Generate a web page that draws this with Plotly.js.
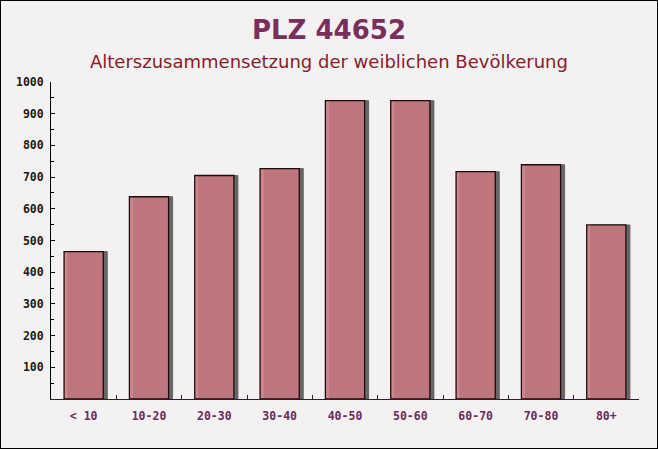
<!DOCTYPE html>
<html>
<head>
<meta charset="utf-8">
<script src="https://cdn.plot.ly/plotly-3.0.1.min.js"></script>
<style>
html,body{margin:0;padding:0;background:#fff;}
#chart{width:656px;height:447px;border:1px solid #000;}
</style>
</head>
<body>
<div id="chart"></div>
<script>
// Data
const categories = ["< 10", "10-20", "20-30", "30-40", "40-50", "50-60", "60-70", "70-80", "80+"];
const values = [465, 638, 705, 727, 941, 941, 717, 739, 549];
const yTickVals = [100, 200, 300, 400, 500, 600, 700, 800, 900, 1000];
const titleText = "PLZ 44652";
const subtitleText = "Alterszusammensetzung der weiblichen Bevölkerung";

// Layout geometry (pixels)
const W = 656, H = 447;
const L = 50, R = 14, T = 78, B = 49;
const plotW = W - L - R, plotH = H - T - B;   // 592 x 320
const dx = 4, dy = 3;
const shadowBase = -dy * 1000 / (plotH - dy);

const shadow = {
  type: 'bar', x: categories, y: values, base: shadowBase,
  xaxis: 'x', yaxis: 'y', width: 0.6,
  marker: {color: '#686868', line: {color: '#555555', width: 0.8}},
  hoverinfo: 'skip', showlegend: false
};
const front = {
  type: 'bar', x: categories, y: values,
  xaxis: 'x2', yaxis: 'y2', width: 0.6,
  marker: {color: 'rgba(202,118,126,0.88)', line: {color: '#1c0c0c', width: 1.3}},
  showlegend: false
};

const tickFont = {family: 'DejaVu Sans Mono', size: 11.5, weight: 'bold'};

const layout = {
  width: W, height: H,
  margin: {l: L, r: R, t: T, b: B, pad: 0},
  paper_bgcolor: '#f3f1f2',
  plot_bgcolor: 'rgba(0,0,0,0)',
  xaxis: {domain: [dx / plotW, 1], anchor: 'y', type: 'category', visible: false, fixedrange: true},
  yaxis: {domain: [0, 1], anchor: 'x', range: [shadowBase, 1000], visible: false, fixedrange: true},
  xaxis2: {
    domain: [0, (plotW - dx) / plotW], anchor: 'y2', type: 'category',
    showline: true, linecolor: '#3a1a30', linewidth: 1,
    ticks: 'inside', tickson: 'boundaries', ticklen: 4, tickcolor: '#3a1a30',
    tickfont: Object.assign({color: '#6b2b5a'}, tickFont),
    ticklabelstandoff: 6,
    showgrid: false, zeroline: false, fixedrange: true
  },
  yaxis2: {
    domain: [0, (plotH - dy) / plotH], anchor: 'x2', range: [0, 1000],
    showline: true, linecolor: '#000', linewidth: 1,
    tickmode: 'array', tickvals: yTickVals, ticktext: yTickVals.map(String),
    ticks: 'inside', ticklen: 4, tickcolor: '#000',
    minor: {dtick: 50, tick0: 0, ticks: 'inside', ticklen: 3, tickcolor: '#000'},
    tickfont: Object.assign({color: '#1a1a1a'}, tickFont),
    ticklabelstandoff: 4,
    showgrid: false, zeroline: false, fixedrange: true
  },
  annotations: [
    {text: '<b>' + titleText + '</b>', xref: 'paper', yref: 'paper',
     x: (W / 2 - L) / plotW, y: (T + plotH - 29) / plotH, xanchor: 'center', yanchor: 'middle',
     showarrow: false, font: {family: 'DejaVu Sans', size: 26, color: '#7a2e5c'}},
    {text: subtitleText, xref: 'paper', yref: 'paper',
     x: (W / 2 - L) / plotW, y: (T + plotH - 61) / plotH, xanchor: 'center', yanchor: 'middle',
     showarrow: false, font: {family: 'DejaVu Sans', size: 18, color: '#8c1a28'}}
  ]
};

Plotly.newPlot('chart', [shadow, front], layout, {displayModeBar: false, staticPlot: true});
</script>
</body>
</html>
